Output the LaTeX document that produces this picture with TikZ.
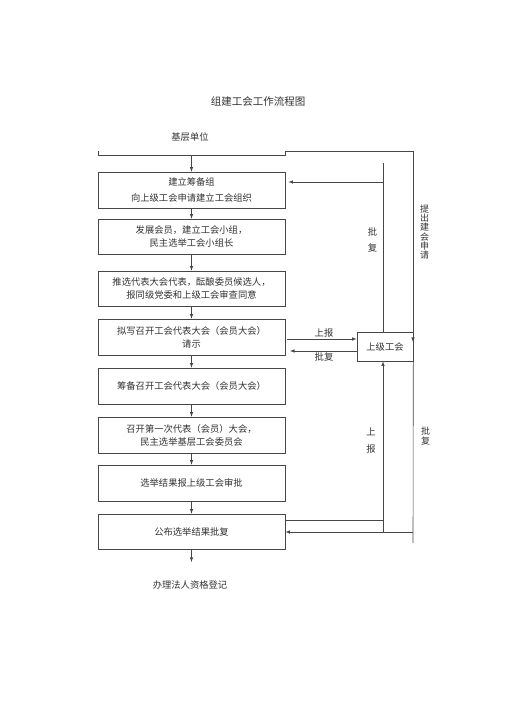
\documentclass[tikz,border=0pt]{standalone}
\usepackage{fontspec}
\newfontfamily\cjk{Noto Sans CJK SC}
\usetikzlibrary{arrows}
\definecolor{Line-1}{RGB}{70,70,70}
\definecolor{Text-1}{RGB}{50,50,50}

\begin{document}
\begin{tikzpicture}[x=1pt, y=-1pt]
    \tikzset{ st/.style={draw=Line-1, line width=0.6pt, minimum width=187pt, minimum height=36pt, align=center, text=Text-1, inner sep=0pt, font=\cjk\fontsize{9.3}{13}\selectfont } }
    \tikzset{ tx/.style={text=Text-1, inner sep=0pt, align=center, font=\cjk\fontsize{9.3}{13}\selectfont } }
    \tikzset{ ln/.style={draw=Line-1, line width=0.6pt} }
    \tikzset{ ar/.style={ln, -latex} }

    \useasboundingbox (0,0) rectangle (505,714);

    \node[tx, font=\cjk\fontsize{10.5}{12}\selectfont] (title) at (258, 102) {组建工会工作流程图};
    \node[tx] (base) at (190, 137) {基层单位};
    \node[tx] (reg)  at (190, 585) {办理法人资格登记};

    \node[st] (b1) at (191.5, 190.0) {建立筹备组\\[3pt]向上级工会申请建立工会组织};
    \node[st, minimum height=35pt] (b2) at (191.5, 236.5) {发展会员，建立工会小组，\\民主选举工会小组长};
    \node[st, minimum height=35pt] (b3) at (191.5, 288.5) {推选代表大会代表，酝酿委员候选人，\\报同级党委和上级工会审查同意};
    \node[st] (b4) at (191.5, 337.0) {拟写召开工会代表大会（会员大会）\\请示};
    \node[st] (b5) at (191.5, 386.0) {筹备召开工会代表大会（会员大会）};
    \node[st] (b6) at (191.5, 435.0) {召开第一次代表（会员）大会，\\民主选举基层工会委员会};
    \node[st] (b7) at (191.5, 483.0) {选举结果报上级工会审批};
    \node[st, minimum height=35pt] (b8) at (191.5, 531.5) {公布选举结果批复};

    \node[st, minimum width=56pt, minimum height=29pt] (up) at (385, 346.5) {上级工会};

    % top bracket and outer line
    \coordinate (l0) at (98, 151);
    \coordinate (l1) at (98, 155.7);
    \coordinate (l2) at (285, 155.7);
    \coordinate (l3) at (285, 151.7);
    \coordinate (r0) at (413, 151.7);
    \coordinate (r1) at (413, 342);
    \coordinate (m0) at (191.5, 155.7);
    \coordinate (m9) at (191.5, 562);
    \draw[ar] (l0) -- (l1) -- (l2) -- (l3) -- (r0) -- (r1);
    \draw[ar] (m0) -- (b1);

    \draw[ar] (b1) -- (b2);
    \draw[ar] (b2) -- (b3);
    \draw[ar] (b3) -- (b4);
    \draw[ar] (b4) -- (b5);
    \draw[ar] (b5) -- (b6);
    \draw[ar] (b6) -- (b7);
    \draw[ar] (b7) -- (b8);
    \draw[ar] (b8) -- (m9);

    % inner line
    \coordinate (i0) at (383, 163);
    \coordinate (i1) at (383, 182);
    \coordinate (i2) at (383, 532);
    \coordinate (i3) at (383, 520);
    \draw[ln] (i0) -- (i0 |- up.north);
    \draw[ar] (i1) -- ([xshift=3pt]i1 -| b1.east);
    \draw[ar] (i2) -- (i2 |- up.south);
    \draw[ln] (i3 -| b8.east) -- (i3);

    % outer line below
    \coordinate (r2) at (413, 543);
    \coordinate (r3) at (413, 532);
    \draw[ln] (up.south east) -- (r2);
    \draw[ar] (r3) -- (r3 -| b8.east);

    % report and reply
    \coordinate (h1) at (287, 339);
    \coordinate (h2) at (290, 351);
    \draw[ar] (h1) -- (h1 -| up.west);
    \draw[ar] (h2 -| up.west) -- (h2);

    \node[tx] (lb1) at (324, 333) {上报};
    \node[tx] (lb2) at (324, 357) {批复};
    \node[tx, font=\cjk\fontsize{9.3}{16.3}\selectfont] (lb3) at (372.5, 240) {批\\复};
    \node[tx, font=\cjk\fontsize{9}{9.2}\selectfont] (lb4) at (424.5, 232) {提\\出\\建\\会\\申\\请};
    \node[tx, font=\cjk\fontsize{9.3}{17.3}\selectfont] (lb5) at (371, 440.5) {上\\报};
    \node[tx, font=\cjk\fontsize{9}{9.2}\selectfont] (lb6) at (425.5, 436) {批\\复};
\end{tikzpicture}
\end{document}
